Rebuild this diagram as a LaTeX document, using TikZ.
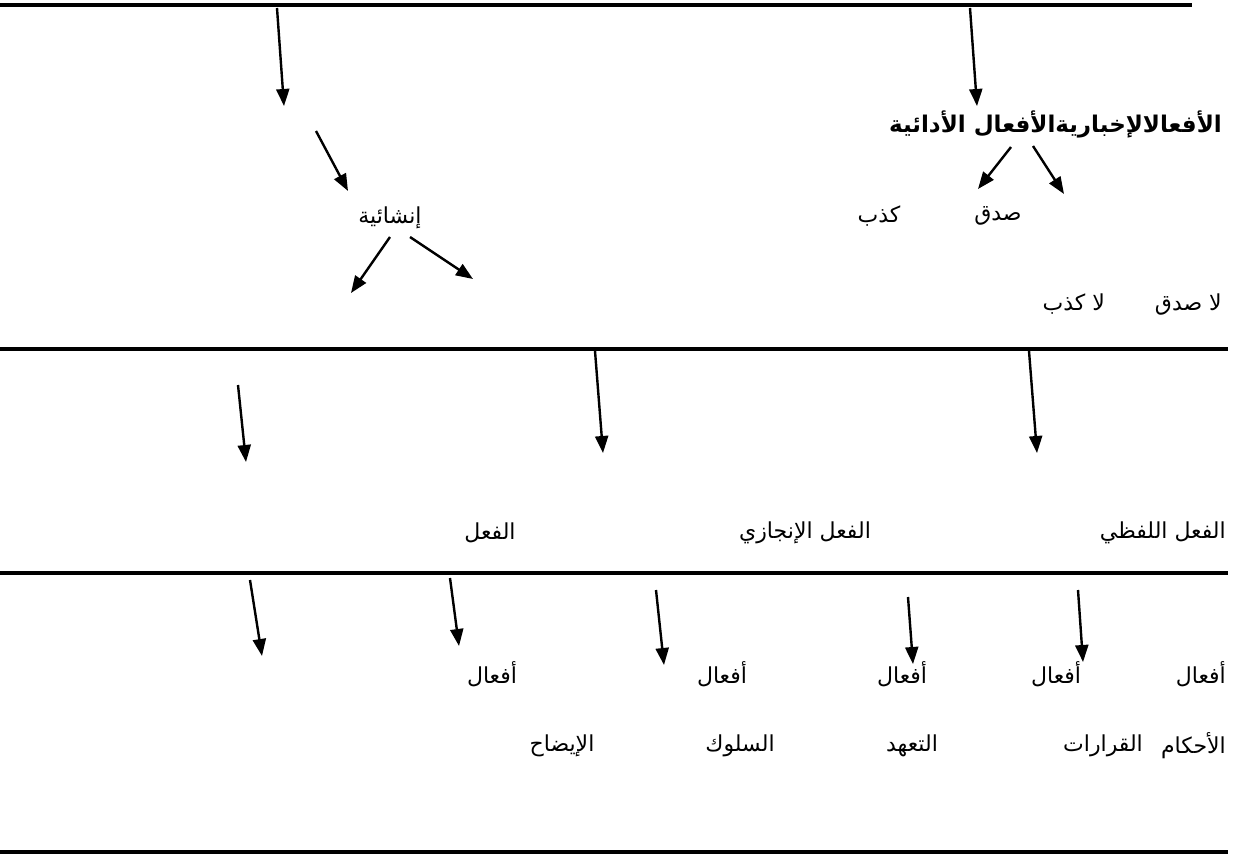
\documentclass[tikz,border=0pt]{standalone}
\usepackage{fontspec}
\newfontfamily\arabicfont[Script=Arabic]{DejaVu Sans}
\TeXXeTstate=1
\usetikzlibrary{arrows.meta}
\tikzset{
  rulel/.style={line width=3.2pt},
  arr/.style={line width=2.4pt, -{Triangle[length=17pt,width=13pt]}},
  lbl/.style={font=\arabicfont\fontsize{22}{25}\selectfont, inner sep=0pt},
  lblb/.style={font=\arabicfont\bfseries\fontsize{23}{26}\selectfont, inner sep=0pt},
}
\newcommand{\rtl}[1]{\beginR #1\endR}
\begin{document}
\begin{tikzpicture}[x=1pt,y=-1pt]
\useasboundingbox (0,0) rectangle (1234,864);
% horizontal rules
\coordinate (l1a) at (0,5);   \coordinate (l1b) at (1192,5);
\coordinate (l2a) at (0,349); \coordinate (l2b) at (1228,349);
\coordinate (l3a) at (0,573); \coordinate (l3b) at (1228,573);
\coordinate (l4a) at (0,852); \coordinate (l4b) at (1228,852);
\draw[rulel] (l1a) -- (l1b);
\draw[rulel] (l2a) -- (l2b);
\draw[rulel] (l3a) -- (l3b);
\draw[rulel] (l4a) -- (l4b);

% section 1 texts
\node[lblb, anchor=east] (title) at (1222,124) {\rtl{الأفعالالإخباريةالأفعال الأدائية}};
\node[lbl] (sidq) at (998,216) {\rtl{صدق}};
\node[lbl] (kadhib) at (879,216) {\rtl{كذب}};
\node[lbl] (insha) at (390,218) {\rtl{إنشائية}};
\node[lbl, anchor=east] (la) at (1222,305) {\rtl{لا صدق\hspace{50pt}لا كذب}};

% section 1 arrows
\coordinate (a1s) at (277,8);   \coordinate (a1e) at (284,106);
\coordinate (a2s) at (970,8);   \coordinate (a2e) at (977,106);
\coordinate (a3s) at (316,131); \coordinate (a3e) at (348,191);
\coordinate (a4s) at (1011,147);\coordinate (a4e) at (978,189);
\coordinate (a5s) at (1033,146);\coordinate (a5e) at (1064,194);
\coordinate (a6s) at (390,237); \coordinate (a6e) at (351,293);
\coordinate (a7s) at (410,237); \coordinate (a7e) at (473,279);
\draw[arr] (a1s) -- (a1e);
\draw[arr] (a2s) -- (a2e);
\draw[arr] (a3s) -- (a3e);
\draw[arr] (a4s) -- (a4e);
\draw[arr] (a5s) -- (a5e);
\draw[arr] (a6s) -- (a6e);
\draw[arr] (a7s) -- (a7e);

% section 2
\coordinate (b1s) at (238,385); \coordinate (b1e) at (246,462);
\coordinate (b2s) at (595,351); \coordinate (b2e) at (603,453);
\coordinate (b3s) at (1029,351);\coordinate (b3e) at (1037,453);
\draw[arr] (b1s) -- (b1e);
\draw[arr] (b2s) -- (b2e);
\draw[arr] (b3s) -- (b3e);
\node[lbl, anchor=east] (lafzi) at (1226,533) {\rtl{الفعل اللفظي}};
\node[lbl] (injazi) at (805,533) {\rtl{الفعل الإنجازي}};
\node[lbl] (fiel) at (490,533) {\rtl{الفعل}};

% section 3
\coordinate (c1s) at (250,580); \coordinate (c1e) at (262,656);
\coordinate (c2s) at (450,578); \coordinate (c2e) at (459,646);
\coordinate (c3s) at (656,590); \coordinate (c3e) at (664,665);
\coordinate (c4s) at (908,597); \coordinate (c4e) at (913,664);
\coordinate (c5s) at (1078,590);\coordinate (c5e) at (1083,662);
\draw[arr] (c1s) -- (c1e);
\draw[arr] (c2s) -- (c2e);
\draw[arr] (c3s) -- (c3e);
\draw[arr] (c4s) -- (c4e);
\draw[arr] (c5s) -- (c5e);
\node[lbl, anchor=east] (af1) at (1226,674) {\rtl{أفعال}};
\node[lbl] (af2) at (1056,674) {\rtl{أفعال}};
\node[lbl] (af3) at (902,674) {\rtl{أفعال}};
\node[lbl] (af4) at (722,674) {\rtl{أفعال}};
\node[lbl] (af5) at (492,674) {\rtl{أفعال}};
\node[lbl, anchor=east] (ahkam) at (1226,746) {\rtl{الأحكام}};
\node[lbl] (qararat) at (1103,746) {\rtl{القرارات}};
\node[lbl] (taahhud) at (912,746) {\rtl{التعهد}};
\node[lbl] (suluk) at (740,746) {\rtl{السلوك}};
\node[lbl] (idah) at (562,746) {\rtl{الإيضاح}};
\end{tikzpicture}
\end{document}
